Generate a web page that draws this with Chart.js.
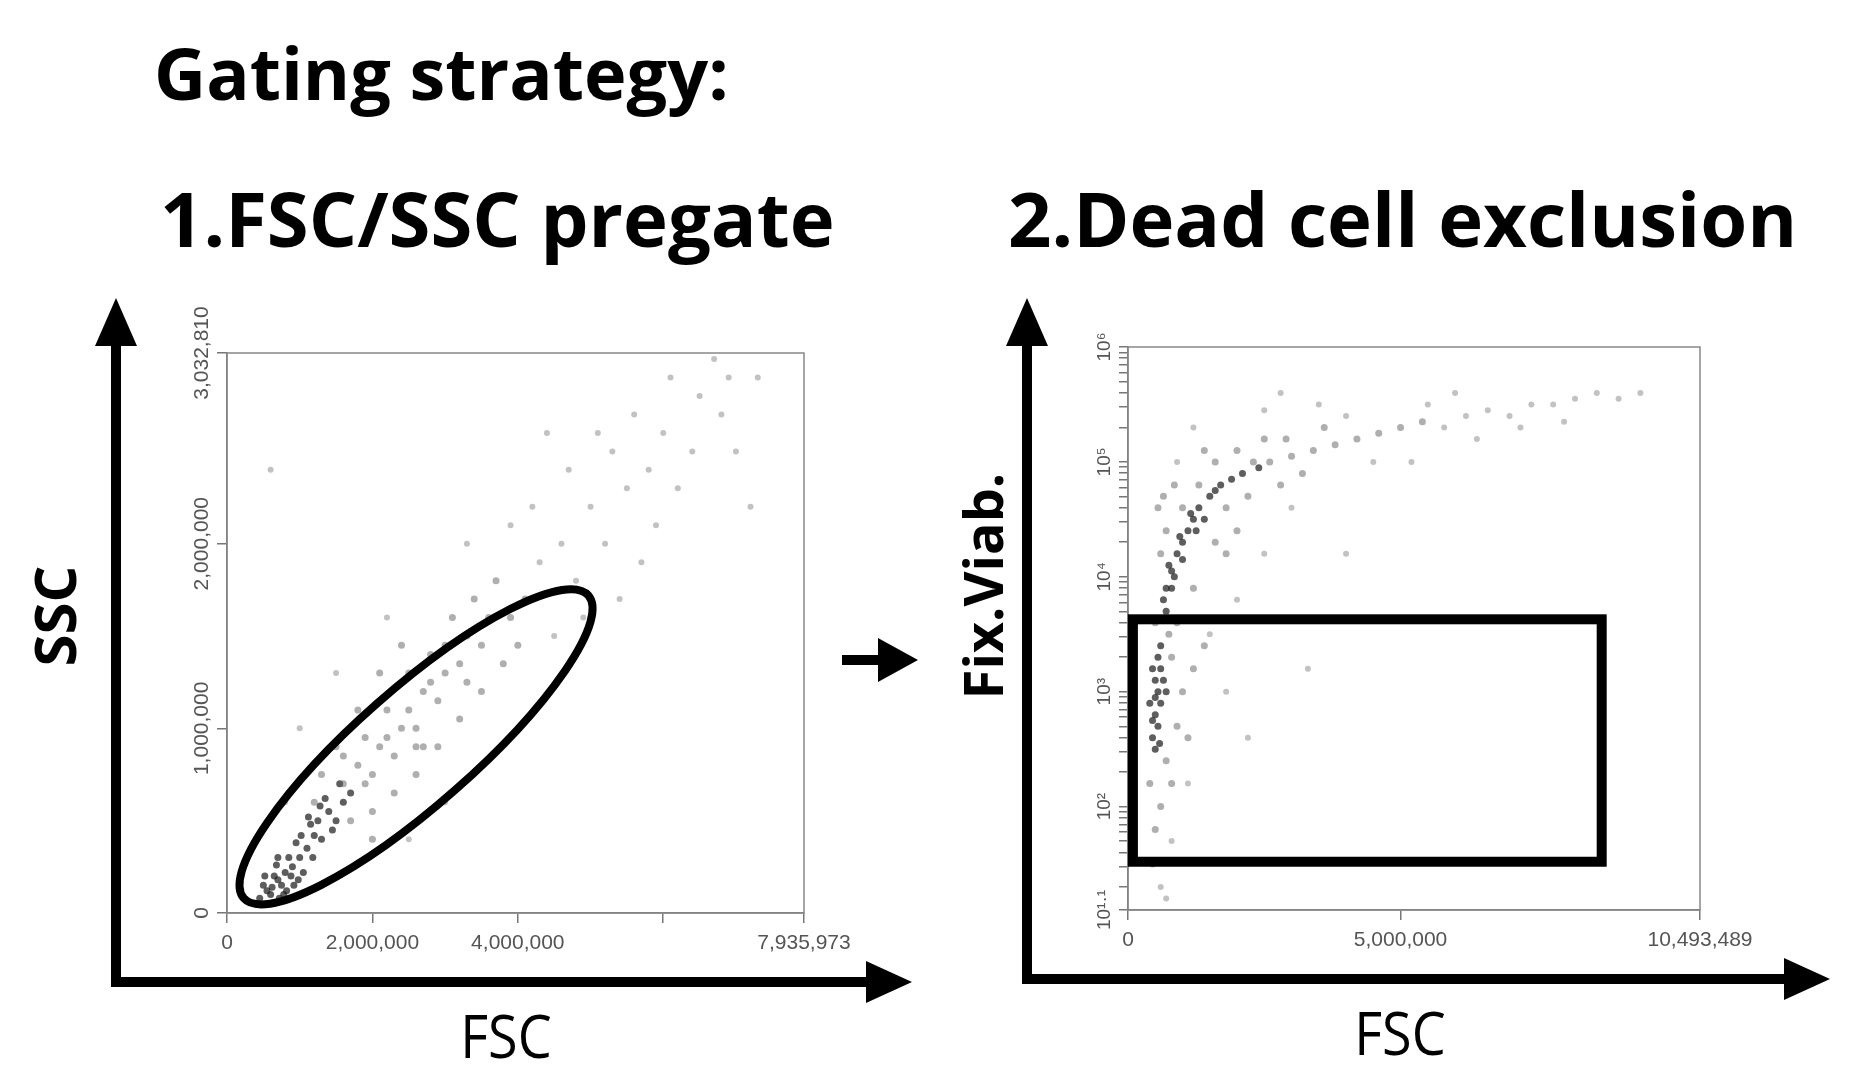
<!DOCTYPE html>
<html><head><meta charset="utf-8">
<script src="https://cdn.jsdelivr.net/npm/chart.js@4"></script>
<style>
html,body{margin:0;padding:0;background:#fff;width:1855px;height:1086px;overflow:hidden}
canvas{position:absolute;left:0;top:0}
.t{position:absolute;font-family:"Open Sans",sans-serif;font-weight:700;color:#000;white-space:nowrap;line-height:1}
</style></head><body>
<div class="t" style="left:154px;top:36px;font-size:72px">Gating strategy:</div>
<div class="t" style="left:160px;top:180px;font-size:76px">1.FSC/SSC pregate</div>
<div class="t" style="left:1008px;top:180px;font-size:76px">2.Dead cell exclusion</div>
<div class="t" style="left:54px;top:616px;font-size:58px;transform:translate(-50%,-50%) rotate(-90deg)">SSC</div>
<div class="t" style="left:506px;top:1035px;font-size:60px;font-weight:400;transform:translate(-50%,-50%) scaleX(0.9)">FSC</div>
<div class="t" style="left:982px;top:586px;font-size:54px;transform:translate(-50%,-50%) rotate(-90deg)">Fix.Viab.</div>
<div class="t" style="left:1400px;top:1032px;font-size:60px;font-weight:400;transform:translate(-50%,-50%) scaleX(0.9)">FSC</div>
<canvas id="c1" width="1855" height="1086"></canvas>
<canvas id="c2" width="1855" height="1086"></canvas>
<script>
// Panel 1: FSC (millions) vs SSC (millions)
const p1Dense=[[0.45,0.08],[0.55,0.12],[0.6,0.1],[0.7,0.18],[0.75,0.15],[0.8,0.22],[0.65,0.2],[0.9,0.25],[0.85,0.3],[1.0,0.3],[1.1,0.35],[0.95,0.38],[1.2,0.42],[1.3,0.4],[1.15,0.48],[0.5,0.15],[0.58,0.05],[0.72,0.08],[1.05,0.22],[1.25,0.5],[1.4,0.55],[1.5,0.5],[1.35,0.62],[1.6,0.6],[0.68,0.26],[0.82,0.12],[0.98,0.18],[1.45,0.45],[0.62,0.14],[0.78,0.1],[0.88,0.2],[0.52,0.2],[0.7,0.3],[1.02,0.42],[1.18,0.3],[1.28,0.58],[1.55,0.7],[1.7,0.65],[0.92,0.15],[1.12,0.52]];
const p1Mid=[[1.6,0.7],[1.8,0.8],[2.0,0.75],[2.1,0.9],[1.9,0.95],[2.3,0.85],[2.4,1.0],[2.2,1.1],[2.6,1.0],[2.7,1.2],[2.5,1.3],[2.9,1.15],[3.0,1.3],[2.8,1.4],[3.2,1.35],[3.3,1.5],[3.1,1.6],[3.5,1.45],[3.6,1.6],[3.4,1.7],[1.7,0.5],[2.0,0.55],[2.3,0.65],[2.6,0.75],[2.9,0.9],[3.2,1.05],[3.5,1.2],[3.8,1.35],[1.3,0.75],[1.5,0.9],[1.8,1.1],[2.1,1.3],[2.4,1.45],[3.7,1.8],[3.9,1.6],[4.1,1.7],[4.0,1.45],[2.0,0.4],[1.2,0.6],[2.7,0.9],[1.9,0.7],[2.2,0.95],[2.5,1.1],[2.8,1.25],[3.0,1.45],[3.3,1.25],[1.6,0.85],[2.6,0.9]];
const p1Sparse=[[4.3,1.9],[4.6,2.0],[4.8,1.8],[5.0,2.2],[5.2,2.0],[5.5,2.3],[5.3,2.5],[5.8,2.4],[6.0,2.6],[6.2,2.3],[5.6,2.7],[6.5,2.8],[6.8,2.7],[6.1,2.9],[7.0,2.5],[7.3,2.9],[4.5,1.5],[4.9,1.6],[5.4,1.7],[4.2,2.2],[3.9,2.1],[4.7,2.4],[5.1,2.6],[3.5,0.8],[3.0,0.6],[2.5,0.4],[4.0,1.0],[1.0,1.0],[1.5,1.3],[0.8,0.6],[5.9,2.1],[6.4,2.5],[6.7,3.0],[4.4,2.6],[0.6,2.4],[7.2,2.2],[3.3,2.0],[2.2,1.6],[5.7,1.9],[6.9,2.9]];
const p1XTicks=[0,2,4,6,7.935973];
const p1XLabels=["0","2,000,000","4,000,000","","7,935,973"];
const p1YTicks=[0,1,2,3.03281];
const p1YLabels=["0","1,000,000","2,000,000","3,032,810"];
const p1Gate={center:[2.6,0.9],majorEnd:[4.97,1.72],minorEnd:[3.12,0.66]};
// Panel 2: FSC (millions) vs Fix.Viab. (log10 exponent)
const p2Dense=[[0.45,2.6],[0.5,2.8],[0.55,3.0],[0.5,3.1],[0.6,2.9],[0.45,3.2],[0.55,3.3],[0.65,3.1],[0.5,2.5],[0.4,2.9],[0.6,3.4],[0.7,3.0],[0.55,2.7],[0.7,3.7],[0.8,3.9],[0.75,4.1],[0.9,4.2],[1.0,4.3],[1.1,4.4],[1.2,4.5],[0.85,4.0],[1.3,4.6],[1.5,4.7],[1.7,4.8],[1.9,4.85],[2.1,4.9],[2.4,4.95],[1.4,4.5],[1.0,4.15],[0.65,3.8],[0.5,2.95],[0.6,3.2],[0.45,2.75],[0.58,2.55],[0.8,4.05],[0.95,4.35],[1.15,4.55],[1.6,4.75],[1.25,4.4],[0.7,3.9]];
const p2Mid=[[0.4,2.2],[0.6,2.0],[0.5,1.8],[0.7,2.4],[0.9,2.7],[1.0,3.0],[1.2,3.2],[0.8,3.3],[1.4,3.4],[0.5,3.6],[0.6,4.2],[0.7,4.4],[1.0,4.6],[1.3,4.8],[1.8,4.6],[2.2,4.7],[2.6,5.0],[3.0,5.05],[3.4,5.1],[3.8,5.15],[4.2,5.2],[2.8,4.8],[3.2,4.9],[4.6,5.25],[5.0,5.3],[5.4,5.35],[1.6,5.0],[2.0,5.1],[2.5,5.2],[0.55,4.6],[1.2,3.9],[1.6,4.3],[2.0,4.4],[0.9,3.6],[0.45,1.5],[0.8,2.2],[1.1,2.6],[0.65,4.7],[0.85,4.8],[1.4,5.1],[2.3,5.0],[2.9,5.2],[3.6,5.3],[1.8,4.2],[0.75,3.5]];
const p2Sparse=[[5.8,5.3],[6.2,5.4],[6.6,5.45],[7.0,5.4],[7.4,5.5],[7.8,5.5],[8.2,5.55],[8.6,5.6],[9.0,5.55],[9.4,5.6],[5.5,5.5],[6.0,5.6],[4.0,5.4],[3.5,5.5],[2.5,5.45],[3.0,4.6],[4.5,5.0],[6.4,5.2],[7.2,5.3],[1.5,3.5],[2.0,3.8],[2.5,4.2],[1.8,3.0],[2.2,2.6],[0.6,1.3],[0.7,1.2],[3.3,3.2],[4.0,4.2],[5.2,5.0],[8.0,5.35],[1.2,5.3],[0.9,5.0],[2.8,5.6],[1.1,2.2],[0.8,1.7]];
const p2XTicks=[0,5,10.493489];
const p2XLabels=["0","5,000,000","10,493,489"];
const p2YMajor=[1.1,2,3,4,5,6];
const p2YLabels=["10¹·¹","10²","10³","10⁴","10⁵","10⁶"];
const p2Gate={x0:0.09,x1:8.69,e0:1.52,e1:3.63};

const FONT={family:"'Liberation Sans Narrow','Liberation Sans',sans-serif",size:21};
const pts=a=>a.map(p=>({x:p[0],y:p[1]}));
const ptsLog=a=>a.map(p=>({x:p[0],y:Math.pow(10,p[1])}));
function ds(d,c,r){return {data:d,backgroundColor:c,borderWidth:0,pointRadius:r};}
function frame(ctx,a){ctx.save();ctx.strokeStyle='#888';ctx.lineWidth=1.5;ctx.strokeRect(a.left,a.top,a.right-a.left,a.bottom-a.top);ctx.restore();}
function yLabels(c,vals,labels,size){
  const ctx=c.ctx,ys=c.scales.y,x=c.chartArea.left-14;
  ctx.save();ctx.fillStyle='#555';ctx.font=size+"px 'Liberation Sans Narrow','Liberation Sans',sans-serif";
  ctx.textAlign='center';ctx.textBaseline='bottom';
  vals.forEach((v,i)=>{ctx.save();ctx.translate(x,ys.getPixelForValue(v));ctx.rotate(-Math.PI/2);ctx.fillText(labels[i],0,0);ctx.restore();});
  ctx.restore();
}
function arrowLine(ctx,x1,y1,x2,y2,w,hl,hw){
  const ang=Math.atan2(y2-y1,x2-x1);
  ctx.save();ctx.lineWidth=w;ctx.strokeStyle='#000';ctx.fillStyle='#000';
  const bx=x2-Math.cos(ang)*hl,by=y2-Math.sin(ang)*hl;
  ctx.beginPath();ctx.moveTo(x1,y1);ctx.lineTo(bx,by);ctx.stroke();
  ctx.beginPath();ctx.moveTo(x2,y2);
  ctx.lineTo(bx+Math.sin(ang)*hw,by-Math.cos(ang)*hw);
  ctx.lineTo(bx-Math.sin(ang)*hw,by+Math.cos(ang)*hw);ctx.closePath();ctx.fill();ctx.restore();
}
const deco={id:'deco',afterDraw(c){
  const ctx=c.ctx;
  ctx.save();ctx.fillStyle='#000';ctx.fillRect(111,977,10,10);ctx.fillRect(1022,974,10,10);ctx.restore();
  arrowLine(ctx,116,985,116,298,10,48,21);
  arrowLine(ctx,111,982,912,982,10,46,21);
  arrowLine(ctx,1027,982,1027,298,10,48,21);
  arrowLine(ctx,1022,979,1830,979,10,46,21);
  arrowLine(ctx,842,660,918,660,10,40,22);
}};
const xOpts=(ticks,labels,max,h)=>({type:'linear',min:0,max:max,
  afterBuildTicks(s){s.ticks=ticks.map(v=>({value:v}));},
  afterFit(s){s.height=h;},
  ticks:{autoSkip:false,maxRotation:0,color:'#555',font:FONT,padding:8,callback:(v,i)=>labels[i]},
  grid:{drawOnChartArea:false,tickLength:10,color:'#777',lineWidth:1.5},border:{color:'#777',width:1.5}});

new Chart(document.getElementById('c1'),{type:'scatter',
  data:{datasets:[ds(pts(p1Sparse),'rgba(120,120,120,0.45)',3),ds(pts(p1Mid),'rgba(95,95,95,0.5)',3.5),ds(pts(p1Dense),'rgba(25,25,25,0.7)',3.5)]},
  options:{responsive:false,animation:false,events:[],
    layout:{padding:{left:187,right:1051,top:353,bottom:133}},
    plugins:{legend:{display:false},tooltip:{enabled:false}},
    scales:{x:xOpts(p1XTicks,p1XLabels,7.935973,40),
      y:{type:'linear',min:0,max:3.03281,
        afterBuildTicks(s){s.ticks=p1YTicks.map(v=>({value:v}));},
        afterFit(s){s.width=40;},
        ticks:{autoSkip:false,color:'rgba(0,0,0,0)',font:FONT,callback:()=>''},
        grid:{drawOnChartArea:false,tickLength:10,color:'#777',lineWidth:1.5},border:{color:'#777',width:1.5}}}},
  plugins:[deco,{id:'g1',afterDatasetsDraw(c){
    const ctx=c.ctx,xs=c.scales.x,ys=c.scales.y;frame(ctx,c.chartArea);
    yLabels(c,p1YTicks,p1YLabels,21);
    const cx=xs.getPixelForValue(p1Gate.center[0]),cy=ys.getPixelForValue(p1Gate.center[1]);
    const mx=xs.getPixelForValue(p1Gate.majorEnd[0]),my=ys.getPixelForValue(p1Gate.majorEnd[1]);
    const nx=xs.getPixelForValue(p1Gate.minorEnd[0]),ny=ys.getPixelForValue(p1Gate.minorEnd[1]);
    const ang=Math.atan2(my-cy,mx-cx),rx=Math.hypot(mx-cx,my-cy),ry=Math.hypot(nx-cx,ny-cy);
    ctx.save();ctx.lineWidth=8;ctx.strokeStyle='#000';ctx.beginPath();ctx.ellipse(cx,cy,rx,ry,ang,0,Math.PI*2);ctx.stroke();ctx.restore();
  }}]});

new Chart(document.getElementById('c2'),{type:'scatter',
  data:{datasets:[ds(ptsLog(p2Sparse),'rgba(120,120,120,0.45)',3),ds(ptsLog(p2Mid),'rgba(95,95,95,0.5)',3.5),ds(ptsLog(p2Dense),'rgba(25,25,25,0.7)',3.5)]},
  options:{responsive:false,animation:false,events:[],
    layout:{padding:{left:1088,right:155,top:347,bottom:136}},
    plugins:{legend:{display:false},tooltip:{enabled:false}},
    scales:{x:xOpts(p2XTicks,p2XLabels,10.493489,40),
      y:{type:'logarithmic',min:Math.pow(10,1.1),max:1e6,
        afterBuildTicks(s){const t=[];for(let e=1;e<6;e++){for(let m=1;m<10;m++){const v=m*Math.pow(10,e);if(v>=s.min)t.push({value:v});}}t.push({value:1e6});t.unshift({value:Math.pow(10,1.1)});s.ticks=t;},
        afterFit(s){s.width=40;},
        ticks:{autoSkip:false,color:'rgba(0,0,0,0)',callback:()=>''},
        grid:{drawOnChartArea:false,tickLength:9,color:'#777',lineWidth:1.5},border:{color:'#777',width:1.5}}}},
  plugins:[{id:'g2',afterDatasetsDraw(c){
    const ctx=c.ctx,xs=c.scales.x,ys=c.scales.y;frame(ctx,c.chartArea);
    yLabels(c,p2YMajor.map(e=>Math.pow(10,e)),p2YLabels,19);
    const x0=xs.getPixelForValue(p2Gate.x0),x1=xs.getPixelForValue(p2Gate.x1);
    const y0=ys.getPixelForValue(Math.pow(10,p2Gate.e0)),y1=ys.getPixelForValue(Math.pow(10,p2Gate.e1));
    ctx.save();ctx.lineWidth=10;ctx.strokeStyle='#000';ctx.strokeRect(x0,y1,x1-x0,y0-y1);ctx.restore();
  }}]});
</script></body></html>
